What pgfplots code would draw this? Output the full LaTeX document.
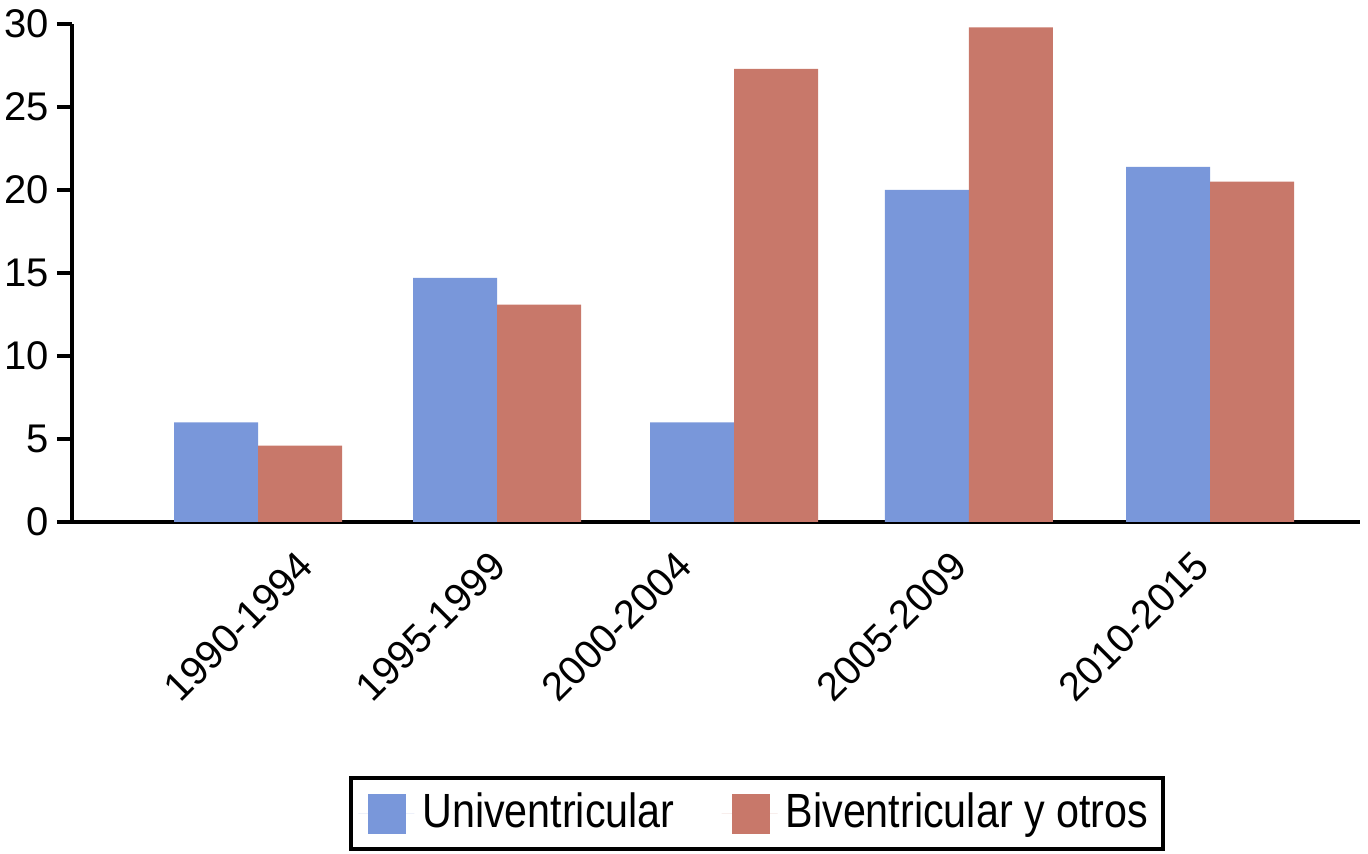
\documentclass[border=0pt]{standalone}
\usepackage{fontspec}
\setmainfont{Liberation Sans}
\newfontfamily\legfont{Liberation Sans}[FakeStretch=0.86]
\usepackage{pgfplots}
\pgfplotsset{compat=1.18}
\definecolor{uniColor}{RGB}{121,151,218}
\definecolor{biColor}{RGB}{200,120,106}

\begin{document}
\begin{tikzpicture}
    \begin{axis}[
        name=main,
        at={(0,0)}, anchor=south west,
        scale only axis,
        width=322pt, height=124.5pt,
        xmin=-0.782, xmax=4.63,
        ymin=0, ymax=30,
        axis lines*=left,
        axis line style={line width=1pt},
        ytick={0,5,10,15,20,25,30},
        xtick={0.218,1.025,1.807,2.962,3.979},
        xticklabels={1990-1994,1995-1999,2000-2004,2005-2009,2010-2015},
        xtick style={draw=none},
        ytick style={line width=1pt, black},
        tick align=outside,
        major tick length=3.75pt,
        /pgf/number format/assume math mode=true,
        tick label style={font=\fontsize{10}{12}\selectfont},
        yticklabel style={xshift=1.5pt},
        xticklabel style={xshift=1.5pt, yshift=-3pt, rotate=45, anchor=east},
        ybar, bar width=21pt,
        legend columns=2,
        legend style={at={(0.532,-0.51)}, anchor=north, draw=black, line width=1pt,
            font=\legfont\fontsize{12}{14}\selectfont, inner xsep=1.8pt, inner ysep=2.3pt,
            nodes={inner ysep=1.5pt},
            /tikz/every even column/.append style={column sep=9.75pt}},
        legend cell align=left,
    ]
        \addplot[fill=uniColor, draw=none, bar shift=-10.5pt,
            legend image code/.code={\fill[uniColor] (0pt,-5pt) rectangle (9.5pt,5pt);
                \path (-2.5pt,0pt) -- (11.5pt,0pt);}]
            coordinates {(0,6.0) (1.004,14.7) (2.0,6.0) (2.987,20.0) (4.0,21.4)};
        \addplot[fill=biColor, draw=none, bar shift=10.5pt,
            legend image code/.code={\fill[biColor] (0pt,-5pt) rectangle (9.5pt,5pt);
                \path (-2.5pt,0pt) -- (11.5pt,0pt);}]
            coordinates {(0,4.6) (1.004,13.1) (2.0,27.3) (2.987,29.8) (4.0,20.5)};
        \legend{Univentricular, Biventricular y otros}
    \end{axis}
    \pgfresetboundingbox
    \useasboundingbox (-18pt,-83pt) rectangle (324pt,130.5pt);
\end{tikzpicture}
\end{document}
